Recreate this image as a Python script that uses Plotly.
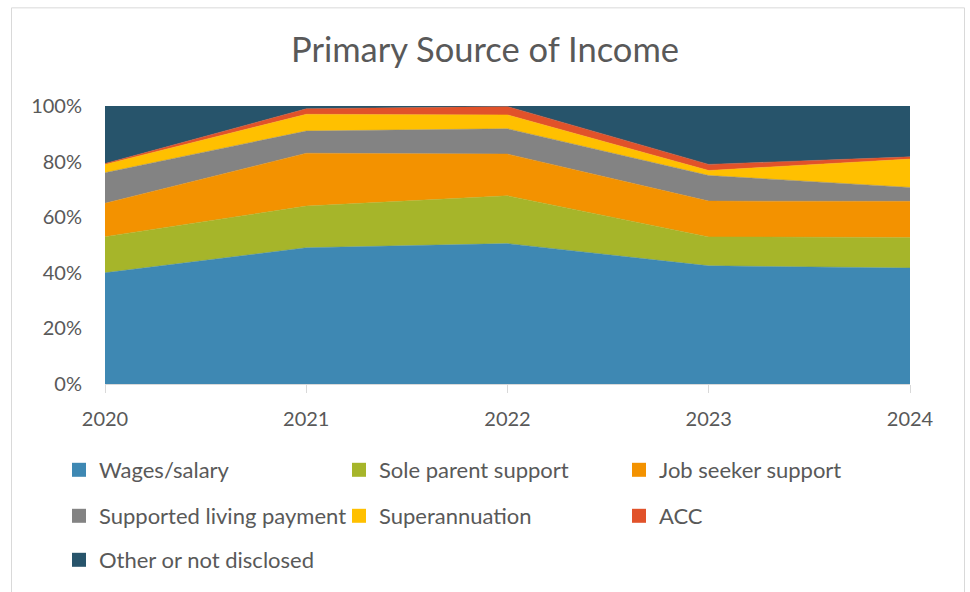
import plotly.graph_objects as go

years = [2020, 2021, 2022, 2023, 2024]
categories = ["Wages/salary", "Sole parent support", "Job seeker support",
              "Supported living payment", "Superannuation", "ACC",
              "Other or not disclosed"]
wages = [40, 49, 50.5, 42.5, 41.7]
sole_parent = [13, 15, 17.2, 10.4, 11]
job_seeker = [12, 19, 15, 12.9, 13]
supported_living = [11, 8, 9.1, 9.2, 5]
superannuation = [3, 6, 5, 1.8, 10.2]
acc = [0.3, 2, 3, 2.2, 0.8]
other = [20.7, 1, 0.2, 21, 18.3]
series = [wages, sole_parent, job_seeker, supported_living, superannuation, acc, other]
colors = ["#3E88B3", "#A6B52A", "#F39200", "#838383", "#FFC000", "#E1522A", "#27546B"]

FONT = "Lato"
W, H = 970, 592
L, R, T, B = 105, 910, 106, 385
pw, ph = R - L, B - T

def px2x(p):
    return (p - L) / pw

def px2y(p):
    return (B - p) / ph

# legend grid (3 columns)
col_px = [59, 339, 619]
row_px = [470, 516, 560]

fig = go.Figure()
for name, vals, col in zip(categories, series, colors):
    fig.add_trace(go.Scatter(
        x=years, y=vals, name=name, mode="lines", stackgroup="one",
        groupnorm="percent", line=dict(width=0.5, color=col), fillcolor=col,
        showlegend=False, hoverinfo="x+y+name"))

legend_layouts = {}
for i, (name, col) in enumerate(zip(categories, colors)):
    lid = "legend" if i == 0 else f"legend{i + 1}"
    fig.add_trace(go.Scatter(
        x=[None], y=[None], name=name, mode="markers",
        marker=dict(symbol="square", size=14, color=col),
        legend=lid, showlegend=True))
    legend_layouts[lid] = dict(
        orientation="h", xanchor="left", yanchor="middle",
        x=px2x(col_px[i % 3]), y=px2y(row_px[i // 3]),
        bgcolor="rgba(0,0,0,0)", traceorder="normal",
        font=dict(family=FONT, size=22, color="#595959"),
        itemclick=False, itemdoubleclick=False)

fig.update_layout(
    width=W, height=H,
    margin=dict(l=L, r=W - R, t=T, b=H - B),
    paper_bgcolor="white", plot_bgcolor="white",
    title=dict(text="Primary Source of Income", x=0.5, xanchor="center",
               y=1 - 50 / H, yanchor="middle",
               font=dict(family=FONT, size=34.5, color="#595959")),
    font=dict(family=FONT, color="#595959"),
    xaxis=dict(range=[2020, 2024], tickvals=years, ticktext=[str(y) for y in years],
               showgrid=False, showline=True, linecolor="#D9D9D9", linewidth=1,
               ticks="outside", ticklen=8, tickcolor="#D9D9D9",
               ticklabelstandoff=9,
               tickfont=dict(family=FONT, size=20, color="#595959"),
               zeroline=False, fixedrange=True),
    yaxis=dict(range=[0, 100], dtick=20, ticksuffix="%", showgrid=True,
               gridcolor="#D9D9D9", zeroline=False, showline=False,
               tickfont=dict(family=FONT, size=20, color="#595959"),
               ticks="", ticklabelstandoff=22, fixedrange=True),
    shapes=[dict(type="rect", xref="paper", yref="paper",
                 x0=px2x(11.5), x1=px2x(964.5), y0=px2y(640), y1=px2y(7.5),
                 line=dict(color="#D9D9D9", width=1), layer="below")],
    **legend_layouts,
)

fig.write_html("out.html")
